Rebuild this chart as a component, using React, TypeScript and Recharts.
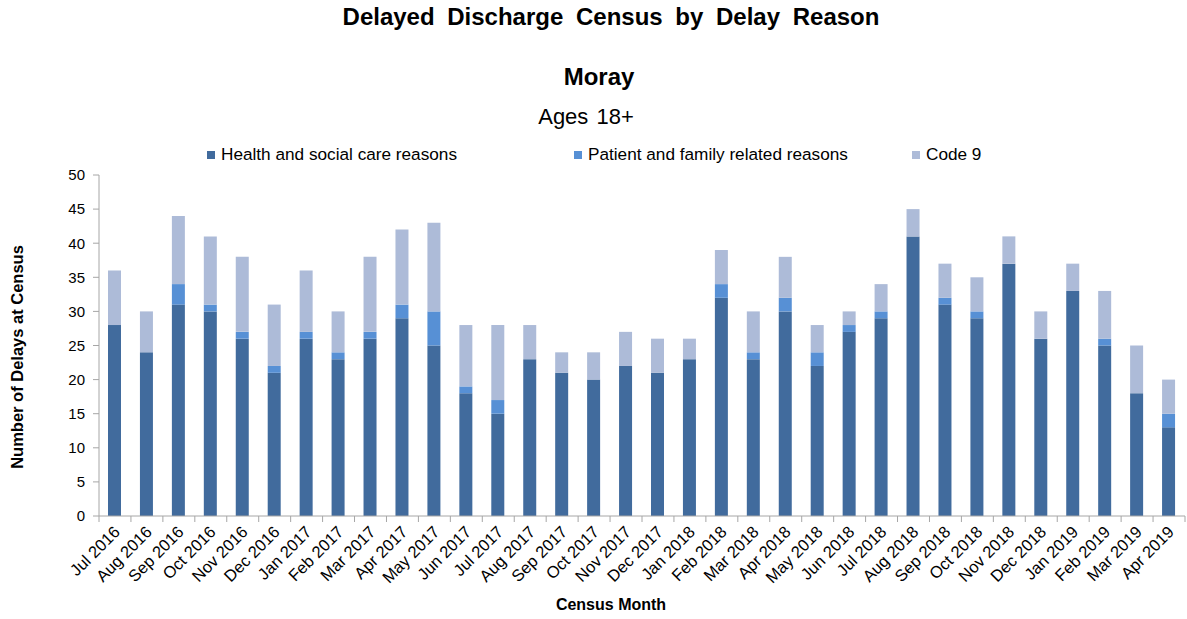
import React from 'react';
import { BarChart, Bar, XAxis, YAxis } from 'recharts';

const months = [
  'Jul 2016', 'Aug 2016', 'Sep 2016', 'Oct 2016', 'Nov 2016', 'Dec 2016',
  'Jan 2017', 'Feb 2017', 'Mar 2017', 'Apr 2017', 'May 2017', 'Jun 2017',
  'Jul 2017', 'Aug 2017', 'Sep 2017', 'Oct 2017', 'Nov 2017', 'Dec 2017',
  'Jan 2018', 'Feb 2018', 'Mar 2018', 'Apr 2018', 'May 2018', 'Jun 2018',
  'Jul 2018', 'Aug 2018', 'Sep 2018', 'Oct 2018', 'Nov 2018', 'Dec 2018',
  'Jan 2019', 'Feb 2019', 'Mar 2019', 'Apr 2019',
];

const healthSocial = [
  28, 24, 31, 30, 26, 21, 26, 23, 26, 29, 25, 18, 15, 23, 21, 20, 22, 21,
  23, 32, 23, 30, 22, 27, 29, 41, 31, 29, 37, 26, 33, 25, 18, 13,
];

const patientFamily = [
  0, 0, 3, 1, 1, 1, 1, 1, 1, 2, 5, 1, 2, 0, 0, 0, 0, 0,
  0, 2, 1, 2, 2, 1, 1, 0, 1, 1, 0, 0, 0, 1, 0, 2,
];

const code9 = [
  8, 6, 10, 10, 11, 9, 9, 6, 11, 11, 13, 9, 11, 5, 3, 4, 5, 5,
  3, 5, 6, 6, 4, 2, 4, 4, 5, 5, 4, 4, 4, 7, 7, 5,
];

const yTicks = [0, 5, 10, 15, 20, 25, 30, 35, 40, 45, 50];

const COLORS = {
  health: '#416B9D',
  patient: '#5790D5',
  code9: '#ADBBD8',
};

const data = months.map((month, i) => ({
  month,
  health: healthSocial[i],
  patient: patientFamily[i],
  code9: code9[i],
}));

const WIDTH = 1187;
const HEIGHT = 619;
const PLOT_LEFT = 99;
const PLOT_RIGHT = 1185;
const PLOT_TOP = 175;
const PLOT_BOTTOM = 516;
const BAND = (PLOT_RIGHT - PLOT_LEFT) / months.length;
const AXIS_COLOR = '#a6a6a6';
const FONT = '"Liberation Sans", Arial, sans-serif';

function MonthTick(props: any) {
  const { x, y, payload, index } = props;
  const isLast = index === months.length - 1;
  const tx = x + 6;
  const ty = y + 17;
  return (
    <g>
      <line x1={x - BAND / 2} y1={y} x2={x - BAND / 2} y2={y + 6} stroke={AXIS_COLOR} />
      {isLast && (
        <line x1={x + BAND / 2} y1={y} x2={x + BAND / 2} y2={y + 6} stroke={AXIS_COLOR} />
      )}
      <text
        x={tx}
        y={ty}
        textAnchor="end"
        fontSize={16.5}
        fontFamily={FONT}
        fill="#000"
        transform={`rotate(-45, ${tx}, ${ty})`}
      >
        {payload.value}
      </text>
    </g>
  );
}

const legendItems = [
  { label: 'Health and social care reasons', color: COLORS.health, left: 207 },
  { label: 'Patient and family related reasons', color: COLORS.patient, left: 574 },
  { label: 'Code 9', color: COLORS.code9, left: 912 },
];

export default function App() {
  return (
    <div
      style={{
        position: 'absolute',
        left: 0,
        top: 0,
        width: WIDTH,
        height: HEIGHT,
        background: '#fff',
        fontFamily: FONT,
      }}
    >
      <div
        style={{
          position: 'absolute',
          top: 3,
          left: 0,
          width: 1222,
          textAlign: 'center',
          fontSize: 24,
          fontWeight: 'bold',
          wordSpacing: 6,
        }}
      >
        Delayed Discharge Census by Delay Reason
      </div>
      <div
        style={{
          position: 'absolute',
          top: 63,
          left: 0,
          width: 1198,
          textAlign: 'center',
          fontSize: 24,
          fontWeight: 'bold',
        }}
      >
        Moray
      </div>
      <div
        style={{
          position: 'absolute',
          top: 104,
          left: 0,
          width: 1172,
          textAlign: 'center',
          fontSize: 22,
          wordSpacing: 2,
        }}
      >
        Ages 18+
      </div>
      {legendItems.map((item) => (
        <div
          key={item.label}
          style={{
            position: 'absolute',
            top: 144,
            left: item.left,
            display: 'flex',
            alignItems: 'center',
            fontSize: 17.2,
            whiteSpace: 'nowrap',
          }}
        >
          <span
            style={{
              display: 'inline-block',
              width: 8,
              height: 8,
              background: item.color,
              marginRight: 6,
            }}
          />
          {item.label}
        </div>
      ))}
      <div
        style={{
          position: 'absolute',
          left: 17,
          top: 357,
          transform: 'translate(-50%, -50%) rotate(-90deg)',
          fontSize: 16.5,
          fontWeight: 'bold',
          whiteSpace: 'nowrap',
        }}
      >
        Number of Delays at Census
      </div>
      <div
        style={{
          position: 'absolute',
          left: 0,
          width: 1222,
          top: 596,
          textAlign: 'center',
          fontSize: 16,
          fontWeight: 'bold',
        }}
      >
        Census Month
      </div>
      <BarChart
        width={WIDTH}
        height={HEIGHT}
        data={data}
        margin={{
          top: PLOT_TOP,
          right: WIDTH - PLOT_RIGHT,
          bottom: HEIGHT - PLOT_BOTTOM - 90,
          left: PLOT_LEFT - 60,
        }}
        barSize={13}
      >
        <XAxis
          dataKey="month"
          interval={0}
          height={90}
          tickLine={false}
          tickSize={0}
          tickMargin={0}
          stroke={AXIS_COLOR}
          tick={<MonthTick />}
        />
        <YAxis
          width={60}
          domain={[0, 50]}
          ticks={yTicks}
          interval={0}
          tickSize={6}
          tickMargin={8}
          stroke={AXIS_COLOR}
          tick={{ fontSize: 15, fill: '#000', fontFamily: FONT }}
        />
        <Bar dataKey="health" stackId="a" fill={COLORS.health} isAnimationActive={false} />
        <Bar dataKey="patient" stackId="a" fill={COLORS.patient} isAnimationActive={false} />
        <Bar dataKey="code9" stackId="a" fill={COLORS.code9} isAnimationActive={false} />
      </BarChart>
    </div>
  );
}
